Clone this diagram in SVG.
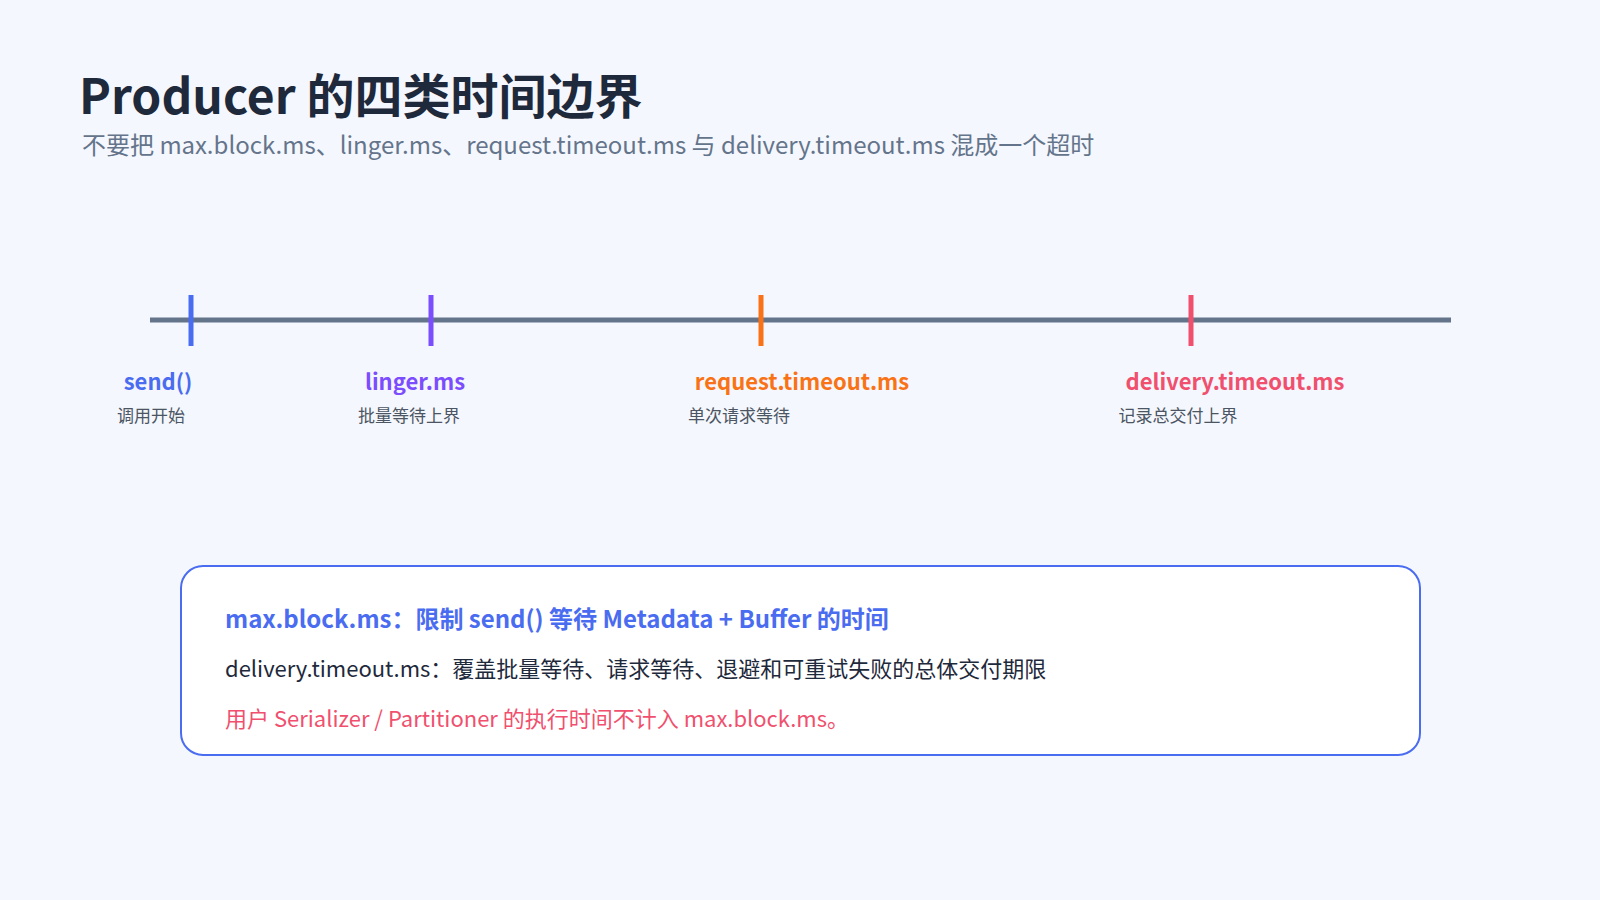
<svg xmlns="http://www.w3.org/2000/svg" width="1600" height="900" viewBox="0 0 1600 900">
<style>
text{font-family:"Noto Sans CJK SC","Noto Sans",sans-serif}
.lbl{font-size:22px;font-weight:700;text-anchor:middle}
.sub{font-size:17px;fill:#4b5563;text-anchor:middle}
.tick{stroke-width:5}
</style>
<rect width="1600" height="900" fill="#f4f7fd"/>
<text x="79" y="114" font-size="48" font-weight="700" fill="#1e293b">Producer 的四类时间边界</text>
<text x="82" y="154" font-size="24" fill="#64748b">不要把 max.block.ms、linger.ms、request.timeout.ms 与 delivery.timeout.ms 混成一个超时</text>
<g id="connectors">
<line x1="150" y1="320" x2="1451" y2="320" stroke="#64748b" stroke-width="5"/>
</g>
<g id="send"><line class="tick" x1="191" y1="295" x2="191" y2="346" stroke="#4a6cf0"/><text class="lbl" x="158" y="390" fill="#4a6cf0">send()</text><text class="sub" x="151" y="422">调用开始</text></g>
<g id="linger"><line class="tick" x1="431" y1="295" x2="431" y2="346" stroke="#7c4dff"/><text class="lbl" x="415" y="390" fill="#7c4dff">linger.ms</text><text class="sub" x="409" y="422">批量等待上界</text></g>
<g id="request"><line class="tick" x1="761" y1="295" x2="761" y2="346" stroke="#f97316"/><text class="lbl" x="802" y="390" fill="#f97316">request.timeout.ms</text><text class="sub" x="739" y="422">单次请求等待</text></g>
<g id="delivery"><line class="tick" x1="1191" y1="295" x2="1191" y2="346" stroke="#f0506e"/><text class="lbl" x="1235" y="390" fill="#f0506e">delivery.timeout.ms</text><text class="sub" x="1178" y="422">记录总交付上界</text></g>
<g id="note">
<rect x="181" y="566" width="1239" height="189" rx="22" fill="#fff" stroke="#4a6cf0" stroke-width="2"/>
<text x="225" y="628" font-size="24" font-weight="700" fill="#4a6cf0">max.block.ms：限制 send() 等待 Metadata + Buffer 的时间</text>
<text x="225" y="677" font-size="22" fill="#1e293b">delivery.timeout.ms：覆盖批量等待、请求等待、退避和可重试失败的总体交付期限</text>
<text x="225" y="727" font-size="22" fill="#f0506e">用户 Serializer / Partitioner 的执行时间不计入 max.block.ms。</text>
</g>
</svg>
